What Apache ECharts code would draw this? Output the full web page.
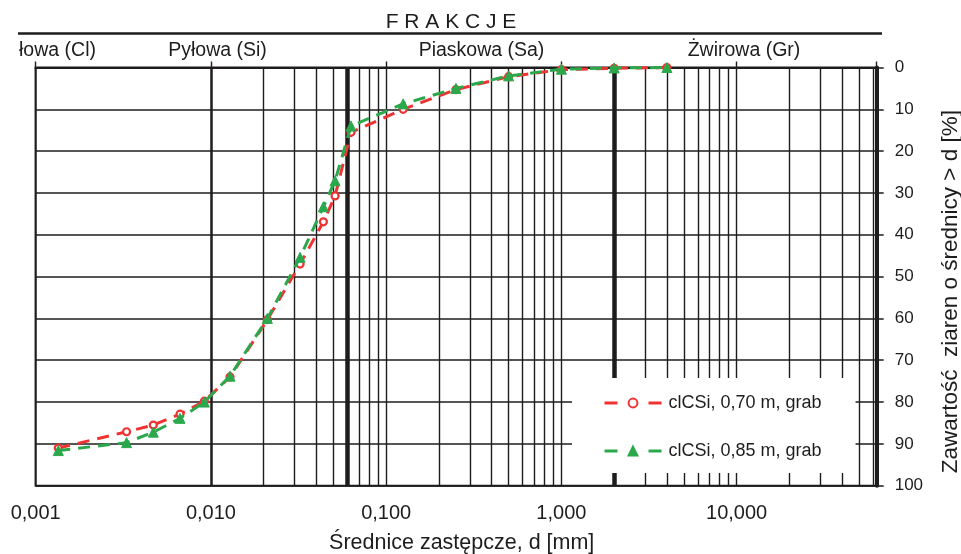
<!DOCTYPE html>
<html>
<head>
<meta charset="utf-8">
<script src="https://cdn.jsdelivr.net/npm/echarts@6.0.0/dist/echarts.min.js"></script>
<style>
  html, body { margin: 0; padding: 0; background: #fff; }
  #chart { width: 961px; height: 554px; }
</style>
</head>
<body>
<div id="chart"></div>
<script>
// Grain-size distribution: particle diameter d [mm] vs share of grains coarser than d [%]
const diameters = [0.001346, 0.0033, 0.00469, 0.00666, 0.00917, 0.01285, 0.021, 0.03227, 0.04383, 0.0511, 0.063, 0.125, 0.25, 0.5, 1, 2, 4];
const sample070 = [91.0, 87.1, 85.5, 82.9, 79.8, 74.0, 60.3, 47.0, 36.9, 30.7, 15.5, 10.0, 5.3, 2.2, 0.5, 0.2, 0];
const sample085 = [91.6, 89.7, 87.2, 83.9, 80.0, 73.8, 60.0, 45.4, 33.3, 27.1, 14.0, 8.7, 5.0, 2.0, 0.4, 0.1, 0];
const seriesNames = ['clCSi, 0,70 m, grab', 'clCSi, 0,85 m, grab'];

const xMin = 0.001, xMax = 63;
const xTickValues = [0.001, 0.01, 0.1, 1, 10];
const xTickLabels = ['0,001', '0,010', '0,100', '1,000', '10,000'];
const yTickLabels = ['0', '10', '20', '30', '40', '50', '60', '70', '80', '90', '100'];

// fraction boundaries (clay / silt / sand / gravel)
const fractionBounds = [0.002, 0.063, 2];
const fractionNames = ['łowa (Cl)', 'Pyłowa (Si)', 'Piaskowa (Sa)', 'Żwirowa (Gr)'];

const INK = '#1e1c1d';
const RED = '#ef3232';
const GREEN = '#2ca84c';
const FONT = '"Liberation Sans", Arial, sans-serif';

// secondary log grid lines: 2..9 inside each decade
const minorGrid = [];
for (let dec = 0.001; dec < xMax; dec *= 10) {
  for (let m = 2; m <= 9; m++) {
    const v = +(dec * m).toPrecision(6);
    if (v < xMax) minorGrid.push(v);
  }
}

const gridLines = minorGrid.map(v => ({ xAxis: v, lineStyle: { color: INK, width: 1.4, type: 'solid' } }))
  .concat(fractionBounds.map(v => ({ xAxis: v, lineStyle: { color: INK, width: 4.5, type: 'solid' } })));

const chart = echarts.init(document.getElementById('chart'), null, { renderer: 'canvas' });

chart.setOption({
  animation: false,
  backgroundColor: '#fff',
  textStyle: { fontFamily: FONT, color: INK },
  grid: {
    left: 35.7, right: 84.3, top: 67.5, bottom: 68.3,
    containLabel: false, outerBoundsMode: 'none',
    show: true, borderColor: INK, borderWidth: 2, backgroundColor: 'transparent'
  },
  xAxis: [{
    type: 'log', logBase: 10, min: xMin, max: xMax, position: 'bottom',
    name: 'Średnice zastępcze, d [mm]', nameLocation: 'middle', nameGap: 46,
    nameTextStyle: { fontSize: 21.5, color: INK, fontFamily: FONT, padding: [0, 0, 0, 11] },
    axisLine: { show: true, lineStyle: { color: INK, width: 2 } },
    axisTick: { show: false },
    axisLabel: {
      show: true, margin: 18, fontSize: 20, color: INK, fontFamily: FONT,
      showMaxLabel: false,
      formatter: v => {
        const i = xTickValues.findIndex(t => Math.abs(Math.log10(t) - Math.log10(v)) < 1e-6);
        return i >= 0 ? xTickLabels[i] : '';
      }
    },
    splitLine: { show: true, lineStyle: { color: INK, width: 1.4 } }
  }, {
    type: 'log', logBase: 10, min: xMin, max: xMax, position: 'top',
    axisLine: { show: true, lineStyle: { color: INK, width: 2 } },
    axisTick: { show: true, length: 6, lineStyle: { color: INK, width: 1.4 } },
    axisLabel: { show: false },
    splitLine: { show: false }
  }],
  yAxis: {
    type: 'value', position: 'right', inverse: true, min: 0, max: 100, interval: 10,
    name: 'Zawartość  ziaren o średnicy > d [%]', nameLocation: 'middle', nameRotate: 90, nameGap: 63,
    nameTextStyle: { fontSize: 22.5, color: INK, fontFamily: FONT, padding: [0, 30, 0, 0] },
    axisLine: { show: true, lineStyle: { color: INK, width: 4 } },
    axisTick: { show: true, length: 7, lineStyle: { color: INK, width: 1.5 } },
    axisLabel: { margin: 18, fontSize: 17, color: INK, fontFamily: FONT, formatter: (v, i) => yTickLabels[i] },
    splitLine: { show: true, lineStyle: { color: INK, width: 1.5 } }
  },
  legend: {
    orient: 'vertical', left: 572, top: 378,
    padding: [16, 34, 13, 31],
    itemWidth: 57, itemHeight: 11, itemGap: 30,
    backgroundColor: '#fff', borderWidth: 0,
    lineStyle: { type: [13, 31], width: 3 },
    textStyle: { fontSize: 18, color: INK, fontFamily: FONT, padding: [0, 0, 0, 2] },
    data: seriesNames
  },
  graphic: [
    { type: 'text', style: { text: 'F R A K C J E', x: 451, y: 22.5, align: 'center', verticalAlign: 'middle', font: '21px ' + FONT, fill: INK } },
    { type: 'line', shape: { x1: 18, y1: 33.5, x2: 882, y2: 33.5 }, style: { stroke: INK, lineWidth: 2.5 } },
    { type: 'text', style: { text: fractionNames[0], x: 57.5, y: 51, align: 'center', verticalAlign: 'middle', font: '19.5px ' + FONT, fill: INK } },
    { type: 'text', style: { text: fractionNames[1], x: 217.5, y: 51, align: 'center', verticalAlign: 'middle', font: '19.5px ' + FONT, fill: INK } },
    { type: 'text', style: { text: fractionNames[2], x: 481.5, y: 51, align: 'center', verticalAlign: 'middle', font: '19.5px ' + FONT, fill: INK } },
    { type: 'text', style: { text: fractionNames[3], x: 744, y: 51, align: 'center', verticalAlign: 'middle', font: '19.5px ' + FONT, fill: INK } }
  ],
  series: [{
    name: seriesNames[0], type: 'line', xAxisIndex: 0,
    data: diameters.map((d, i) => [d, sample070[i]]),
    symbol: 'circle', symbolSize: 7,
    itemStyle: { color: '#fff', borderColor: RED, borderWidth: 2.2 },
    lineStyle: { color: RED, width: 3, type: [12, 8] },
    z: 3,
    markLine: {
      silent: true, symbol: ['none', 'none'], label: { show: false },
      animation: false, data: gridLines, z: 1
    }
  }, {
    name: seriesNames[1], type: 'line', xAxisIndex: 0,
    data: diameters.map((d, i) => [d, sample085[i]]),
    symbol: 'triangle', symbolSize: 10,
    itemStyle: { color: GREEN, borderColor: GREEN, borderWidth: 1 },
    lineStyle: { color: GREEN, width: 3, type: [12, 8] },
    z: 4
  }]
});
</script>
</body>
</html>
